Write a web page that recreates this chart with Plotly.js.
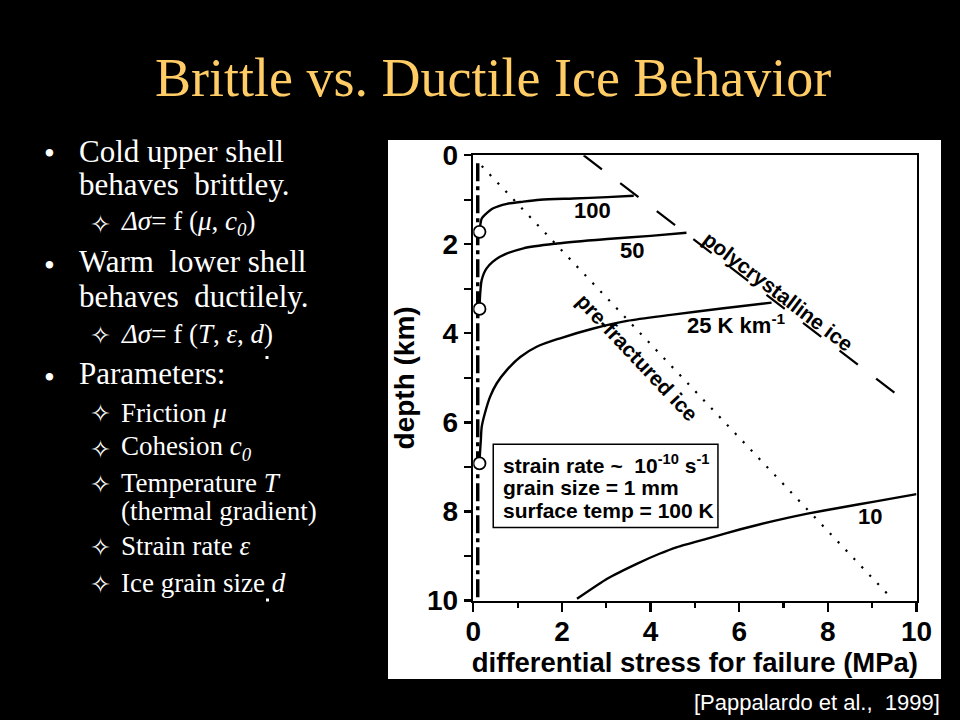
<!DOCTYPE html>
<html>
<head>
<meta charset="utf-8">
<script src="https://cdn.plot.ly/plotly-3.0.1.min.js"></script>
<style>
html,body{margin:0;padding:0;background:#000;}
#chart{width:960px;height:720px;}
</style>
</head>
<body>
<div id="chart"></div>
<script>
// ---------- data ----------
const xTickVals = [0, 2, 4, 6, 8, 10];
const yTickVals = [0, 2, 4, 6, 8, 10];

// 100 K/km ductile strength curve (stress MPa, depth km)
const curve100X = [0.14, 0.16, 0.19, 0.26, 0.45, 0.76, 1.13, 1.51, 2.26, 3.02, 3.62];
const curve100Y = [1.72, 1.55, 1.42, 1.34, 1.19, 1.09, 1.04, 1.00, 0.97, 0.94, 0.91];
// 50 K/km
const curve50X = [0.14, 0.15, 0.16, 0.19, 0.30, 0.60, 1.13, 1.89, 3.02, 4.00, 4.81];
const curve50Y = [3.45, 3.20, 3.05, 2.80, 2.54, 2.28, 2.09, 1.98, 1.88, 1.81, 1.74];
// 25 K/km
const curve25X = [0.14, 0.15, 0.17, 0.19, 0.26, 0.38, 0.53, 0.76, 1.06, 1.43, 1.96, 2.71, 3.47, 4.50, 5.60, 6.73];
const curve25Y = [6.92, 6.70, 6.40, 6.10, 5.80, 5.42, 5.12, 4.82, 4.53, 4.30, 4.11, 3.89, 3.72, 3.58, 3.44, 3.31];
// 10 K/km
const curve10X = [2.34, 3.02, 3.70, 4.20, 4.60, 5.28, 6.03, 6.79, 7.54, 8.30, 9.05, 10.0];
const curve10Y = [9.96, 9.51, 9.17, 8.95, 8.80, 8.61, 8.40, 8.21, 8.05, 7.91, 7.78, 7.61];

// brittle / ductile limits
const frictionLimitX = [0.10, 0.10];
const frictionLimitY = [0.18, 10.0];
const preFracturedX = [0.19, 9.39];
const preFracturedY = [0.24, 9.90];
const polycrystallineX = [2.49, 9.58];
const polycrystallineY = [0.00, 5.39];

// brittle-ductile transition points
const transitionX = [0.14, 0.14, 0.14];
const transitionY = [1.72, 3.45, 6.92];

// curve labels
const curveLabelText = ['100', '50', '25 K km<sup>-1</sup>', '10'];
const curveLabelX = [2.68, 3.57, 5.93, 8.95];
const curveLabelY = [1.23, 2.13, 3.80, 8.12];

const infoLines = ['strain rate ~  10<sup>-10</sup> s<sup>-1</sup>', 'grain size = 1 mm', 'surface temp = 100 K'];

// ---------- layout helpers ----------
const W = 960, H = 720;
const px = v => v / W;
const py = v => 1 - v / H;
const sans = 'Liberation Sans, Arial, Helvetica, sans-serif';
const serif = 'Liberation Serif, Times New Roman, serif';
const bold = (size, color) => ({family: sans, size: size, color: color || '#000', weight: 'bold'});

function curve(x, y, smoothing) {
  return {x: x, y: y, type: 'scatter', mode: 'lines', hoverinfo: 'skip',
          line: {color: '#000', width: 2.4, shape: 'spline', smoothing: smoothing}};
}

const traces = [
  {x: frictionLimitX, y: frictionLimitY, type: 'scatter', mode: 'lines', hoverinfo: 'skip',
   line: {color: '#000', width: 3.5, dash: '18px,5px,4px,5px'}},
  {x: preFracturedX, y: preFracturedY, type: 'scatter', mode: 'lines', hoverinfo: 'skip',
   line: {color: '#000', width: 2.2, dash: '2.2px,9.3px'}},
  {x: polycrystallineX, y: polycrystallineY, type: 'scatter', mode: 'lines', hoverinfo: 'skip',
   line: {color: '#000', width: 2.2, dash: '23px,23px'}},
  curve(curve100X, curve100Y, 0.8),
  curve(curve50X, curve50Y, 0.8),
  curve(curve25X, curve25Y, 0.8),
  curve(curve10X, curve10Y, 0.5),
  {x: transitionX, y: transitionY, type: 'scatter', mode: 'markers', hoverinfo: 'skip',
   marker: {symbol: 'circle', size: 12, color: '#fff', line: {color: '#000', width: 1.8}}}
];

const annotations = [];

// curve labels
curveLabelText.forEach((t, i) => annotations.push({
  x: curveLabelX[i], y: curveLabelY[i], xref: 'x', yref: 'y', text: t, showarrow: false,
  xanchor: 'center', yanchor: 'middle', font: bold(22)
}));
annotations.push({x: 6.88, y: 3.06, xref: 'x', yref: 'y', text: 'polycrystalline ice', showarrow: false,
  textangle: 37.3, font: bold(21)});
annotations.push({x: 3.70, y: 4.55, xref: 'x', yref: 'y', text: 'pre-fractured ice', showarrow: false,
  textangle: 46.6, font: bold(21)});
// info box lines
const infoY = [6.94, 7.47, 7.97];
infoLines.forEach((t, i) => annotations.push({
  x: 0.62, y: infoY[i], xref: 'x', yref: 'y', text: t, showarrow: false,
  xanchor: 'left', yanchor: 'middle', font: bold(21)
}));

// slide title
annotations.push({x: px(493), y: py(78), xref: 'paper', yref: 'paper', text: 'Brittle vs. Ductile Ice Behavior',
  showarrow: false, xanchor: 'center', yanchor: 'middle',
  font: {family: serif, size: 54, color: '#FFCC66'}});

// bullet text
function mainLine(text, baseline) {
  annotations.push({x: px(77), y: py(baseline - 10.5), xref: 'paper', yref: 'paper', text: text,
    showarrow: false, xanchor: 'left', yanchor: 'middle', font: {family: serif, size: 31, color: '#fff'}});
}
function bullet(cy) {
  annotations.push({x: px(49), y: py(cy), xref: 'paper', yref: 'paper', text: '•',
    showarrow: false, xanchor: 'center', yanchor: 'middle', font: {family: serif, size: 31, color: '#fff'}});
}
function subLine(text, baseline, star) {
  annotations.push({x: px(119), y: py(baseline - 9.2), xref: 'paper', yref: 'paper', text: text,
    showarrow: false, xanchor: 'left', yanchor: 'middle', font: {family: serif, size: 27, color: '#fff'}});
  if (star) {
    annotations.push({x: px(100), y: py(baseline - 8), xref: 'paper', yref: 'paper', text: '✧',
      showarrow: false, xanchor: 'center', yanchor: 'middle', font: {family: 'DejaVu Sans', size: 25, color: '#fff'}});
  }
}
bullet(153); mainLine('Cold upper shell', 162); mainLine('behaves  brittley.', 195);
subLine('<i>Δσ</i>= f (<i>μ</i>, <i>c<sub>0</sub></i>)', 232, true);
bullet(265); mainLine('Warm  lower shell', 272); mainLine('behaves  ductilely.', 307);
subLine('<i>Δσ</i>= f (<i>T</i>, <i>ε</i>, <i>d</i>)', 343, true);
bullet(377); mainLine('Parameters:', 384);
subLine('Friction <i>μ</i>', 422, true);
subLine('Cohesion <i>c<sub>0</sub></i>', 457, true);
subLine('Temperature <i>T</i>', 492, true);
subLine('(thermal gradient)', 520, false);
subLine('Strain rate <i>ε</i>', 555, true);
subLine('Ice grain size <i>d</i>', 592, true);

// citation
annotations.push({x: px(942), y: py(702), xref: 'paper', yref: 'paper', text: '[Pappalardo et al.,  1999]',
  showarrow: false, xanchor: 'right', yanchor: 'middle', font: {family: sans, size: 22, color: '#fff'}});

const shapes = [
  // white figure panel
  {type: 'rect', xref: 'paper', yref: 'paper', x0: px(388), x1: px(941), y0: py(679), y1: py(140),
   fillcolor: '#fff', line: {width: 0}, layer: 'below'},
  // parameter box
  {type: 'rect', xref: 'x', yref: 'y', x0: 0.45, x1: 5.52, y0: 6.49, y1: 8.36,
   fillcolor: 'rgba(255,255,255,0)', line: {color: '#000', width: 1.5}, layer: 'below'},
  // stray overdots in bullets
  {type: 'rect', xref: 'paper', yref: 'paper', x0: px(265.5), x1: px(268.5), y0: py(359), y1: py(356),
   fillcolor: '#fff', line: {width: 0}},
  {type: 'rect', xref: 'paper', yref: 'paper', x0: px(266), x1: px(269), y0: py(601.5), y1: py(598.5),
   fillcolor: '#fff', line: {width: 0}}
];

const axisCommon = {
  showgrid: false, zeroline: false, showline: true, linecolor: '#000', linewidth: 2.6,
  mirror: true, ticks: 'outside', tickcolor: '#000', tickwidth: 2.2, automargin: false,
  tickfont: bold(28), fixedrange: true
};

const layout = {
  width: W, height: H,
  margin: {l: 0, r: 0, t: 0, b: 0},
  paper_bgcolor: '#000', plot_bgcolor: '#fff',
  showlegend: false,
  xaxis: Object.assign({}, axisCommon, {
    domain: [px(473.3), px(916.5)], range: [0, 10], tickvals: xTickVals, ticklen: 9,
    ticklabelstandoff: -5,
    minor: {dtick: 1, ticks: 'outside', ticklen: 5, tickwidth: 2.2, tickcolor: '#000'},
    title: {text: 'differential stress for failure (MPa)', font: bold(27.5), standoff: 0}
  }),
  yaxis: Object.assign({}, axisCommon, {
    domain: [1 - 600.5 / H, 1 - 155.3 / H], range: [10, 0], tickvals: yTickVals, ticklen: 7,
    minor: {dtick: 1, ticks: 'outside', ticklen: 7, tickwidth: 2.2, tickcolor: '#000'},
    title: {text: 'depth (km)', font: bold(28), standoff: 4}
  }),
  annotations: annotations,
  shapes: shapes
};

Plotly.newPlot('chart', traces, layout, {staticPlot: true, displayModeBar: false});
</script>
</body>
</html>
